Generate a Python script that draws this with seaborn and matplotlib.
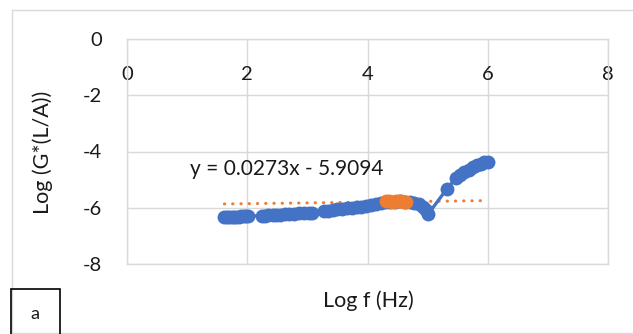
import matplotlib
matplotlib.use("Agg")
import matplotlib.pyplot as plt
import seaborn as sns
import pandas as pd
import numpy as np
from matplotlib.patches import Rectangle

sns.set_theme(style="white")
plt.rcParams["font.family"] = ["Lato", "DejaVu Sans"]

# Conductance vs frequency (log-log)
log_f_all = [1.62, 1.66, 1.70, 1.74, 1.78, 1.82, 1.86, 1.90, 1.94, 1.98, 2.02,
             2.25, 2.30, 2.35, 2.42, 2.48, 2.55, 2.62, 2.70, 2.78, 2.86, 2.94, 3.02, 3.08,
             3.28, 3.34, 3.42, 3.50, 3.58, 3.66, 3.74, 3.82, 3.90, 3.98, 4.06, 4.14,
             4.22, 4.30, 4.38, 4.46, 4.54, 4.62, 4.70, 4.78, 4.86, 4.92, 4.97, 5.01,
             5.32, 5.47, 5.54, 5.61, 5.68, 5.75, 5.82, 5.88, 5.94, 6.00]
log_g_all = [-6.34, -6.34, -6.33, -6.33, -6.32, -6.32, -6.32, -6.31, -6.31, -6.30, -6.30,
             -6.28, -6.28, -6.27, -6.26, -6.25, -6.24, -6.23, -6.22, -6.21, -6.20, -6.19, -6.18, -6.17,
             -6.12, -6.10, -6.08, -6.06, -6.04, -6.02, -6.00, -5.98, -5.96, -5.94, -5.91, -5.88,
             -5.84, -5.81, -5.79, -5.78, -5.77, -5.78, -5.80, -5.83, -5.88, -5.96, -6.08, -6.22,
             -5.33, -4.95, -4.84, -4.73, -4.64, -4.56, -4.49, -4.43, -4.39, -4.36]

# Linear region used for the fit
log_f_fit = [4.30, 4.36, 4.42, 4.48, 4.52, 4.56, 4.60, 4.64]
log_g_fit = [-5.77, -5.77, -5.78, -5.77, -5.77, -5.77, -5.78, -5.78]

slope = 0.0273
intercept = -5.9094
trend_range = [1.62, 5.95]

x_ticks = [0, 2, 4, 6, 8]
y_ticks = [0, -2, -4, -6, -8]

blue = "#4472C4"
orange = "#ED7D31"
grid = "#D9D9D9"
ink = "#1a1a1a"

fig = plt.figure(figsize=(6.33, 3.34), dpi=100)
ax = fig.add_axes([127 / 633, 70 / 334, 481 / 633, 225 / 334])

all_df = pd.DataFrame({"logf": log_f_all, "logg": log_g_all})
fit_df = pd.DataFrame({"logf": log_f_fit, "logg": log_g_fit})

sns.lineplot(data=all_df, x="logf", y="logg", ax=ax, sort=False, color=blue,
             marker="o", markersize=10, markeredgewidth=0, linewidth=2.4, zorder=3)
sns.lineplot(data=fit_df, x="logf", y="logg", ax=ax, sort=False, color=orange,
             marker="o", markersize=10, markeredgewidth=0, linewidth=2.4, zorder=4)

tx = np.array(trend_range)
ax.plot(tx, slope * tx + intercept, color=orange, linewidth=2.2,
        linestyle=(0, (0.1, 2.6)), dash_capstyle="round", zorder=2)

ax.text(2.65, -4.63, f"y = {slope}x - {abs(intercept)}", fontsize=15,
        ha="center", va="center", color=ink)

ax.set_xlim(0, 8)
ax.set_ylim(-8, 0)
ax.set_xticks(x_ticks)
ax.set_yticks(y_ticks)
ax.set_xticklabels([str(t) for t in x_ticks])
ax.set_yticklabels([str(t) for t in y_ticks])
ax.grid(True, color=grid, linewidth=1)
for s in ax.spines.values():
    s.set_color(grid)
    s.set_linewidth(1)

ax.tick_params(axis="x", bottom=False, labelbottom=False, top=False, labeltop=True,
               pad=-38, labelsize=14.5, colors=ink)
ax.tick_params(axis="y", left=False, pad=12, labelsize=14.5, colors=ink)

ax.set_xlabel("Log f (Hz)", fontsize=15.5, color=ink, va="center")
ax.xaxis.set_label_position("bottom")
ax.xaxis.set_label_coords(0.502, -0.116)
ax.set_ylabel("Log (G*(L/A))", fontsize=15.5, color=ink, va="center", ha="center")
ax.yaxis.set_label_coords(-0.175, 0.498)

# chart frame and panel tag
fig.patches.append(Rectangle((12 / 633, 1 / 334), 640 / 633, 323 / 334,
                             transform=fig.transFigure, fill=False,
                             edgecolor=grid, linewidth=1))
fig.patches.append(Rectangle((11 / 633, -2 / 334), 49 / 633, 47 / 334,
                             transform=fig.transFigure, fill=False,
                             edgecolor="black", linewidth=1.2))
fig.text(35 / 633, 20 / 334, "a", fontsize=13, ha="center", va="center", color=ink)

fig.savefig("out.png", dpi=100)
